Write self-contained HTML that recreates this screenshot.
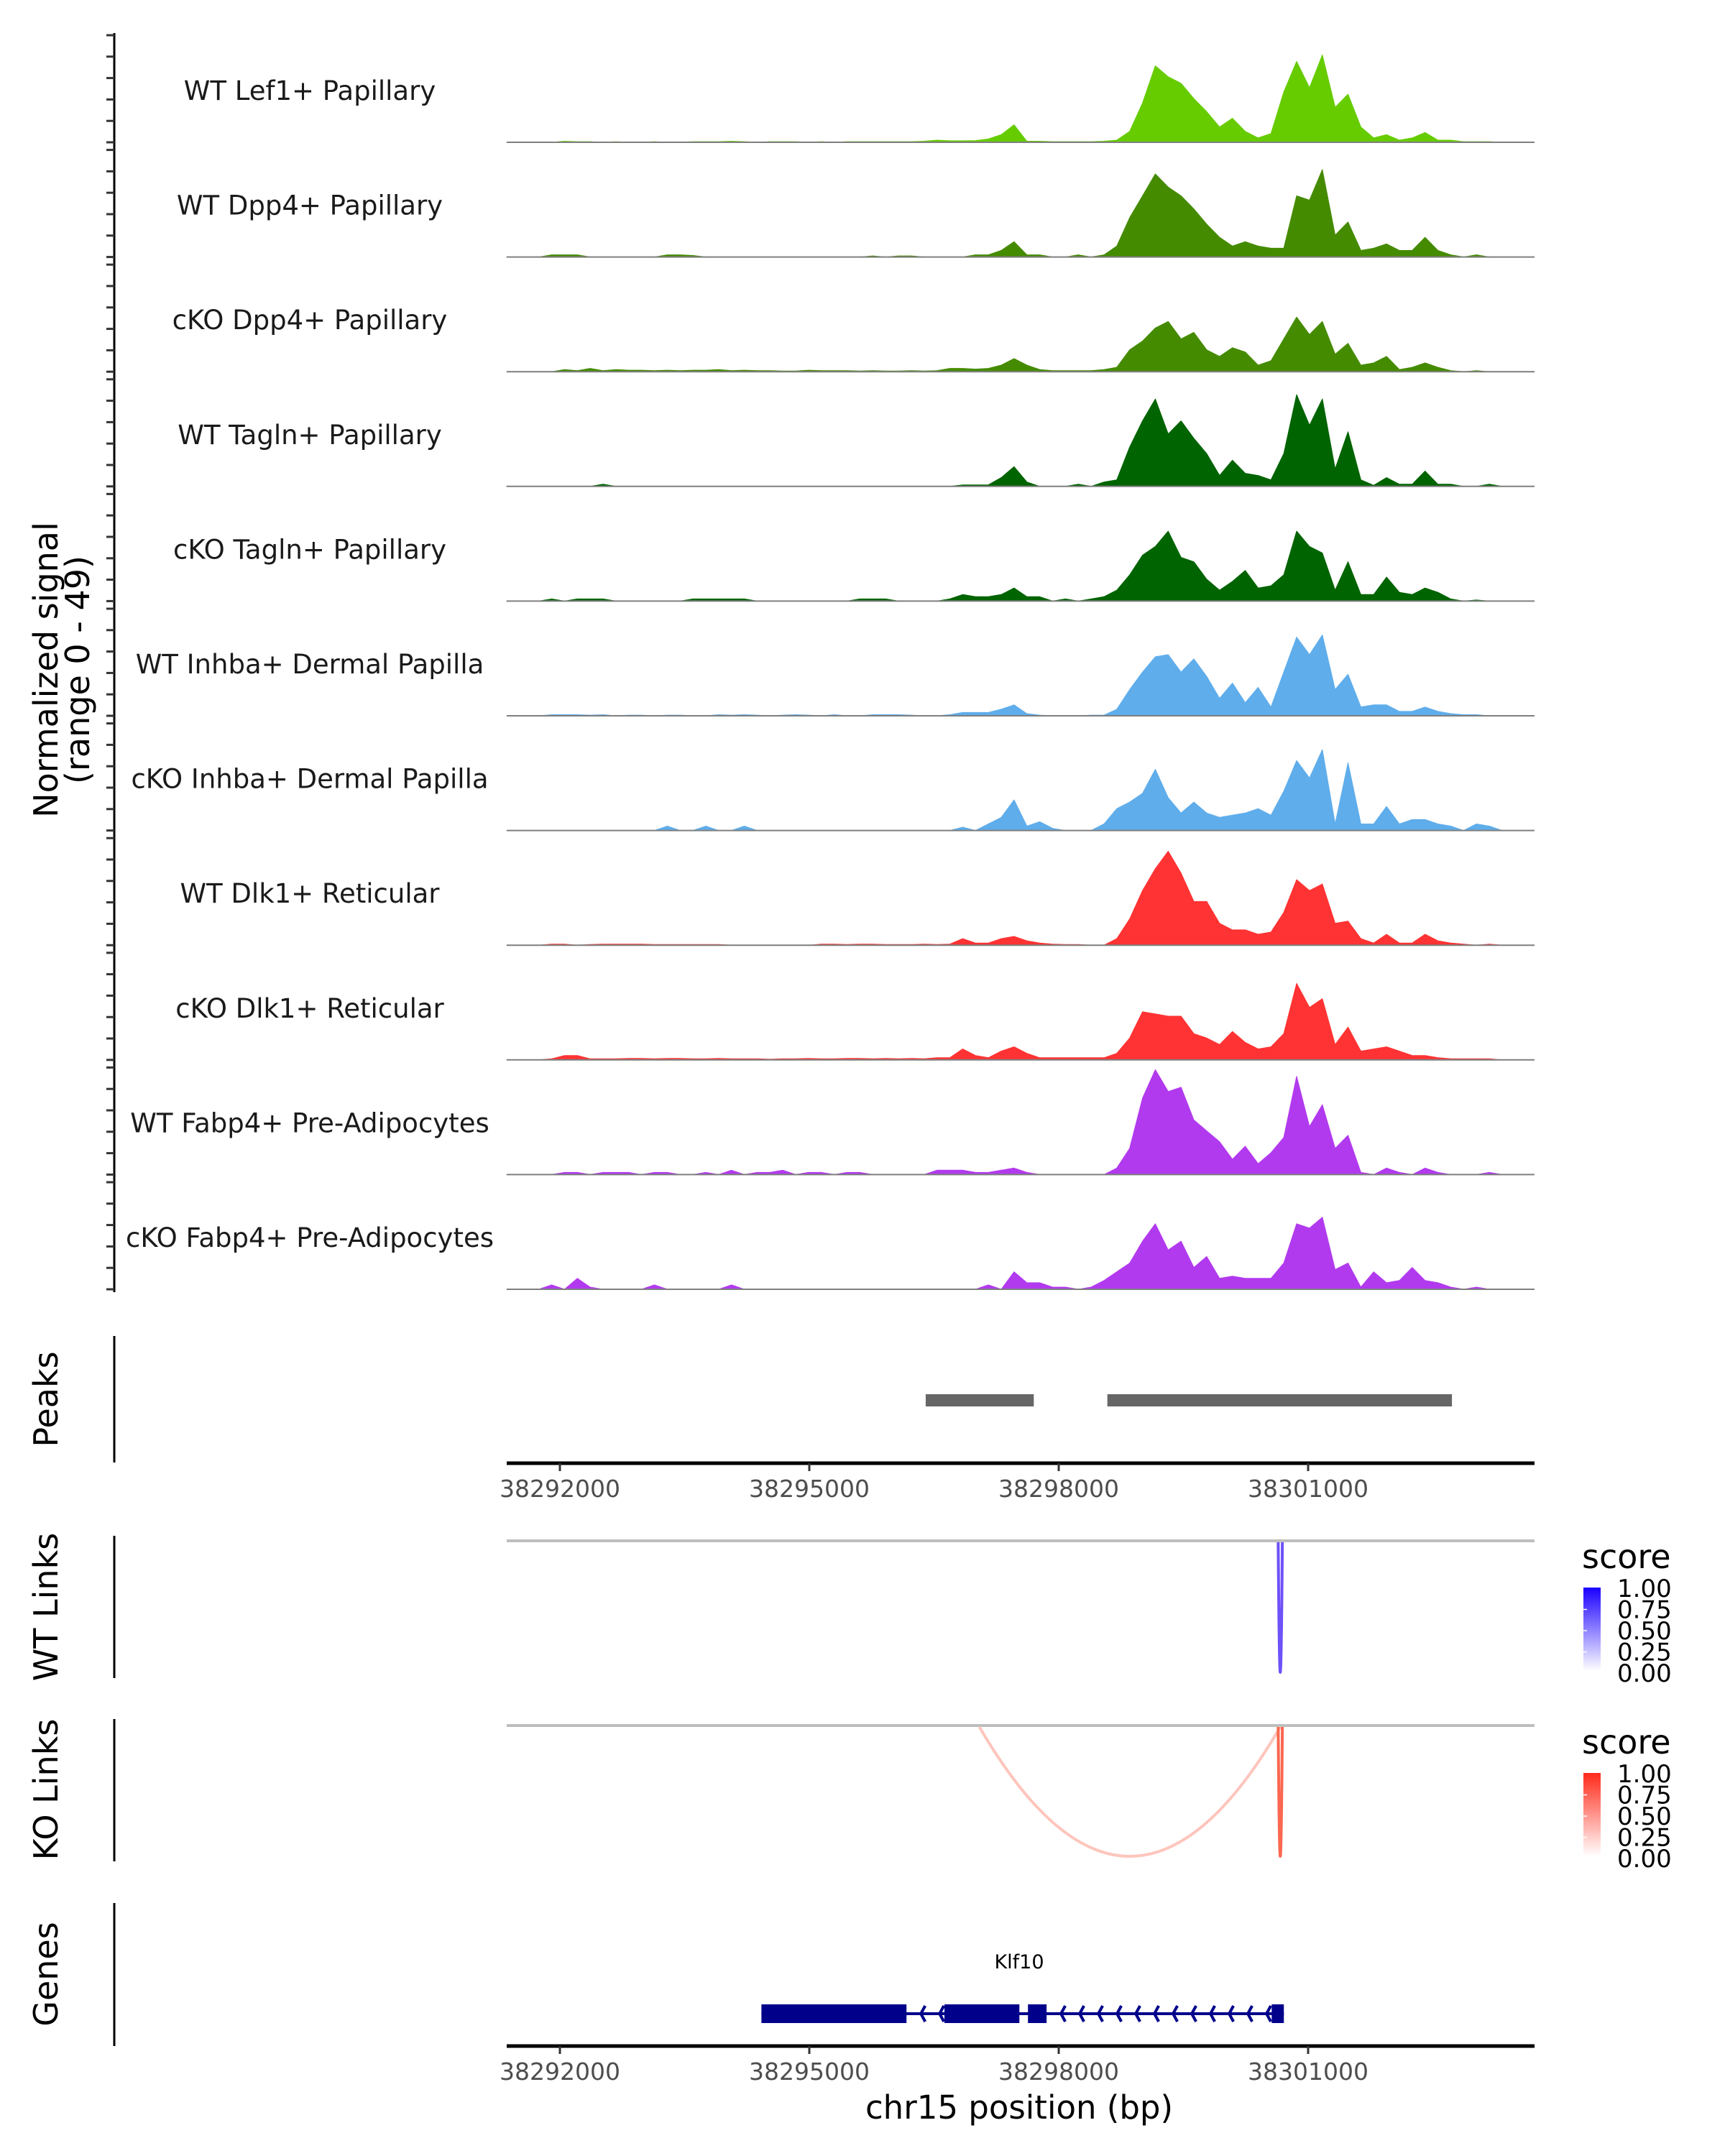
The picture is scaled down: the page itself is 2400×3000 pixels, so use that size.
<!DOCTYPE html>
<html><head><meta charset="utf-8"><style>
html,body{margin:0;padding:0;background:#fff;}
svg{display:block;font-family:"DejaVu Sans","Liberation Sans",sans-serif;}
</style></head><body>
<svg id="chart" width="2400" height="3000" viewBox="0 0 2400 3000" xmlns="http://www.w3.org/2000/svg">
<g id="ytitle">
<text x="80" y="932" font-size="46" text-anchor="middle" transform="rotate(-90 80 932)">Normalized signal</text>
<text x="124" y="932" font-size="46" text-anchor="middle" transform="rotate(-90 124 932)">(range 0 - 49)</text>
</g>
<line x1="159" y1="46" x2="159" y2="1798" stroke="#000" stroke-width="3"/>
<g id="tracks"></g>
<text x="80" y="1947" font-size="46" text-anchor="middle" transform="rotate(-90 80 1947)">Peaks</text>
<line x1="159" y1="1859" x2="159" y2="2035" stroke="#000" stroke-width="3"/>
<g id="peaks"></g>
<g id="axis1"></g>
<text x="80" y="2236" font-size="46" text-anchor="middle" transform="rotate(-90 80 2236)">WT Links</text>
<line x1="159" y1="2137" x2="159" y2="2335" stroke="#000" stroke-width="3"/>
<line x1="705" y1="2144" x2="2135" y2="2144" stroke="#bebebe" stroke-width="4"/>
<g id="wtlinks"></g>
<text x="80" y="2490" font-size="46" text-anchor="middle" transform="rotate(-90 80 2490)">KO Links</text>
<line x1="159" y1="2392" x2="159" y2="2590" stroke="#000" stroke-width="3"/>
<line x1="705" y1="2401" x2="2135" y2="2401" stroke="#bebebe" stroke-width="4"/>
<g id="kolinks"></g>
<defs>
<linearGradient id="gBlue" x1="0" y1="1" x2="0" y2="0"><stop offset="0" stop-color="#ffffff"/><stop offset="1" stop-color="#1a00ff"/></linearGradient>
<linearGradient id="gRed" x1="0" y1="1" x2="0" y2="0"><stop offset="0" stop-color="#ffffff"/><stop offset="1" stop-color="#ff2a1a"/></linearGradient>
</defs>
<g id="legends"></g>
<text x="80" y="2747" font-size="46" text-anchor="middle" transform="rotate(-90 80 2747)">Genes</text>
<line x1="159" y1="2648" x2="159" y2="2847" stroke="#000" stroke-width="3"/>
<text x="1418" y="2739" font-size="27" text-anchor="middle">Klf10</text>
<g id="genes"></g>
<g id="axis2"></g>
<text x="1418" y="2948" font-size="45" text-anchor="middle">chr15 position (bp)</text>
</svg>
<script>
// ---- data ----
const trackNames = ["WT Lef1+ Papillary","WT Dpp4+ Papillary","cKO Dpp4+ Papillary","WT Tagln+ Papillary","cKO Tagln+ Papillary","WT Inhba+ Dermal Papilla","cKO Inhba+ Dermal Papilla","WT Dlk1+ Reticular","cKO Dlk1+ Reticular","WT Fabp4+ Pre-Adipocytes","cKO Fabp4+ Pre-Adipocytes"];
const trackColors = ["#66cc00","#458b00","#458b00","#006400","#006400","#5fadeb","#5fadeb","#ff3333","#ff3333","#b23aee","#b23aee"];
const binStart = 38291360;
const binSize = 154.5;
const sigLef1WT = [0,0,0,0,0.5,0.3,0.3,0,0.3,0, 0,0.3,0,0,0.3,0.3,0.3,0.5,0.3,0, 0.3,0.3,0.3,0,0.3,0,0.3,0.3,0.3,0.3, 0.3,0.3,0.5,1,0.7,0.7,0.8,1.5,3.5,8, 0.5,0.5,0.3,0.3,0.3,0.3,0.5,1,5,18, 35,30,27,20,14,7,11,5,2,4, 23,37,25,40,16,22,7,2,3.5,1, 2,4.5,1,1,0.3,0.3,0.3,0,0,0];
const sigDpp4WT = [0,0,0,1,1,1,0,0,0,0, 0,0,1,1,0.7,0,0,0,0,0, 0,0,0,0,0,0,0,0,0.5,0, 0.5,0.5,0,0,0,0,1,1,3,7, 1,1,0,0,1,0,1,5,18,28, 38,32,28,22,15,9,5,7,5,4, 4,28,26,40,10,16,3,4,6,3, 3,9,3,1,0,1,0,0,0,0];
const sigDpp4KO = [0,0,0,0,1,0.5,1.5,0.5,1,0.7, 0.7,0.5,0.7,0.5,0.7,0.7,1,0.5,0.7,0.5, 0.5,0.3,0.3,0.7,0.5,0.5,0.5,0.3,0.5,0.3, 0.3,0.5,0.3,0.5,1.5,1.5,1.2,1.5,3,6, 3,1,0.5,0.5,0.5,0.5,1,2,10,14, 20,23,15,18,10,7,11,9,3,5, 15,25,17,23,8,13,3,4,7,1, 2,4,2,0.5,0,0.5,0,0,0,0];
const sigTaglnWT = [0,0,0,0,0,0,0,1,0,0, 0,0,0,0,0,0,0,0,0,0, 0,0,0,0,0,0,0,0,0,0, 0,0,0,0,0,0.7,0.7,0.7,4,9, 2,0,0,0,1,0,2,3,18,30, 40,24,30,22,15,5,12,6,5,3, 15,42,28,40,8,25,3,0.5,4,1, 1,7,1,1,0,0,1,0,0,0];
const sigTaglnKO = [0,0,0,1,0,1,1,1,0,0, 0,0,0,0,1,1,1,1,1,0, 0,0,0,0,0,0,0,1,1,1, 0,0,0,0,1,3,2,2,3,6, 2,2,0,1,0,1,2,5,12,21, 25,32,20,18,10,5,9,14,6,7, 12,32,25,22,5,18,3,3,11,4, 3,6,4,1,0,0.5,0,0,0,0];
const sigInhbaWT = [0,0,0,0.5,0.5,0.5,0.3,0.5,0,0.3, 0.3,0,0.3,0.3,0,0,0.5,0.3,0.5,0.3, 0,0.3,0.5,0.3,0,0.5,0,0,0.5,0.5, 0.5,0.3,0,0,0.5,1.5,1.5,1.5,3,5, 1,0.3,0,0,0,0.3,0.3,3,12,20, 27,28,20,26,18,8,15,6,13,4, 20,36,28,37,12,19,4,5,5,2, 2,4,2,1,0.5,0.5,0,0,0,0];
const sigInhbaKO = [0,0,0,0,0,0,0,0,0,0, 0,0,2,0,0,2,0,0,2,0, 0,0,0,0,0,0,0,0,0,0, 0,0,0,0,0,1.5,0,3,6,14, 2,4,1,0,0,0,3,10,13,17, 28,15,8,13,8,6,7,8,10,7, 18,32,24,37,3,31,3,3,11,3, 5,5,3,2,0,3,2,0,0,0];
const sigDlk1WT = [0,0,0,0.5,0.5,0,0.3,0.5,0.5,0.5, 0.5,0.3,0.3,0.3,0.3,0.3,0.3,0,0,0, 0,0,0,0,0.5,0.5,0.3,0.5,0.5,0.3, 0.3,0.3,0.5,0.3,0.5,3,1,1,3,4, 2,1,0.5,0.3,0.3,0,0,3,12,25, 35,43,33,20,20,10,7,7,5,6, 15,30,25,28,10,11,3,1,5,1, 1,5,2,1,0.5,0,0.5,0,0,0];
const sigDlk1KO = [0,0,0,0.5,2,2,0.5,0.5,0.5,0.7, 0.7,0.5,0.7,0.7,0.5,0.5,0.7,0.5,0.5,0.5, 0.3,0.5,0.5,0.7,0.5,0.5,0.7,0.7,0.5,0.7, 0.5,0.7,0.5,1,1,5,2,1,4,6, 3,1,1,1,1,1,1,3,10,22, 21,20,20,12,10,7,13,8,5,6, 12,35,24,28,7,15,4,5,6,4, 2,2,1,0.5,0.5,0.5,0.5,0,0,0];
const sigFabp4WT = [0,0,0,0,1,1,0,1,1,1, 0,1,1,0,0,1,0,2,0,1, 1,2,0,1,1,0,1,1,0,0, 0,0,0,2,2,2,1,1,2,3, 1,0,0,0,0,0,0,3,12,35, 48,38,40,25,20,15,7,13,5,10, 17,45,22,32,12,18,1,0,3,1, 0,3,1,0,0,0,1,0,0,0];
const sigFabp4KO = [0,0,0,2,0,5,1,0,0,0, 0,2,0,0,0,0,0,2,0,0, 0,0,0,0,0,0,0,0,0,0, 0,0,0,0,0,0,0,2,0,8, 3,3,1,1,0,1,4,8,12,22, 30,18,22,10,15,5,6,5,5,5, 12,30,28,33,9,12,1,8,3,4, 10,4,3,1,0,1,0,0,0,0];
const trackSignals = [sigLef1WT,sigDpp4WT,sigDpp4KO,sigTaglnWT,sigTaglnKO,sigInhbaWT,sigInhbaKO,sigDlk1WT,sigDlk1KO,sigFabp4WT,sigFabp4KO];
const xTicks = [38292000,38295000,38298000,38301000];
const peakStarts = [38296400,38298585];
const peakEnds = [38297700,38302730];
const wtLinkStart = [38300640];
const wtLinkEnd = [38300690];
const wtLinkScore = [0.8];
const koLinkStart = [38297046,38300640];
const koLinkEnd = [38300665,38300690];
const koLinkScore = [0.25,0.85];
const exonStarts = [38294424,38296625,38297630,38300562];
const exonEnds = [38296169,38297527,38297854,38300708];
const legendTicks = ["1.00","0.75","0.50","0.25","0.00"];

// ---- scales ----
const NS="http://www.w3.org/2000/svg";
const X0=705, X1=2135;
function x(bp){ return 779 + (bp-38292000)*347/3000; }
const unitPx = 149/49;
function baseY(i){ return 198 + i*159.6; }
function el(tag, attrs, parent){ const e=document.createElementNS(NS,tag); for(const k in attrs) e.setAttribute(k,attrs[k]); parent.appendChild(e); return e; }

// ---- tracks ----
const tg=document.getElementById('tracks');
trackNames.forEach((name,i)=>{
  const b=baseY(i);
  const g=el('g',{},tg);
  
  
  for(let k=0;k<6;k++){
    const t=el('line',{x1:148,x2:159,y1:b-k*29.8,y2:b-k*29.8,stroke:'#333','stroke-width':3},g);
    
    
  }
  const lab=el('text',{x:431,y:b-59,'font-size':37,'text-anchor':'middle',fill:'#1a1a1a'},g);
  lab.textContent=name;
  
  
  const vals=trackSignals[i];
  let d='M'+x(binStart).toFixed(1)+','+b;
  vals.forEach((v,j)=>{
    const cx=x(binStart+(j+0.5)*binSize);
    d+=' L'+cx.toFixed(1)+','+(b-v*unitPx).toFixed(1);
  });
  d+=' L'+x(binStart+vals.length*binSize).toFixed(1)+','+b+' Z';
  const p=el('path',{d:d,fill:trackColors[i],stroke:trackColors[i],'stroke-width':1,'stroke-linejoin':'round'},g);
  
  
  const bl=el('line',{x1:X0,x2:X1,y1:b,y2:b,stroke:'#7f7f7f','stroke-width':2},g);
  
  
});

// ---- peaks ----
const pg=document.getElementById('peaks');
peakStarts.forEach((s,i)=>{
  const r=el('rect',{x:x(s),y:1940,width:x(peakEnds[i])-x(s),height:17,fill:'#666666'},pg);
  
  
});

// ---- axes ----
function drawAxis(gid,y,ly){
  const g=document.getElementById(gid);
  const l=el('line',{x1:X0,x2:X1,y1:y,y2:y,stroke:'#000','stroke-width':5},g);
  
  
  xTicks.forEach(t=>{
    const tk=el('line',{x1:x(t),x2:x(t),y1:y,y2:y+11,stroke:'#333','stroke-width':3},g);
    
    
    const tx=el('text',{x:x(t),y:ly,'font-size':33,'text-anchor':'middle',fill:'#4d4d4d'},g);
    tx.textContent=String(t);
    
    
  });
}
drawAxis('axis1',2036,2083);
drawAxis('axis2',2847,2894);

// ---- links ----
function mix(c,s){ return 'rgb('+c.map(v=>Math.round(255+(v-255)*s)).join(',')+')'; }
function drawLinks(gid,starts,ends,scores,topY,botY,col){
  const g=document.getElementById(gid);
  starts.forEach((s,i)=>{
    const x1=x(s), x2=x(ends[i]);
    const cy=2*botY-topY;
    const d='M'+x1+','+topY+' Q'+((x1+x2)/2)+','+cy+' '+x2+','+topY;
    const p=el('path',{d:d,fill:'none',stroke:mix(col,scores[i]*0.8+0.1),'stroke-width':4},g);
    
    
  });
}
drawLinks('wtlinks',wtLinkStart,wtLinkEnd,wtLinkScore,2146,2327,[60,20,245]);
drawLinks('kolinks',koLinkStart,koLinkEnd,koLinkScore,2403,2583,[250,60,30]);

// ---- legends ----
const lg=document.getElementById('legends');
[[0,'gBlue','wt'],[258,'gRed','ko']].forEach(([dy,grad,nm])=>{
  const g=el('g',{},lg);
  
  
  const t=el('text',{x:2201,y:2182+dy,'font-size':46},g);
  t.textContent='score';
  
  
  const r=el('rect',{x:2203,y:2209+dy,width:24,height:116,fill:'url(#'+grad+')'},g);
  
  
  legendTicks.forEach((lbl,k)=>{
    const yy=2210+dy+k*29.5;
    if(k>0&&k<4){
      const tl=el('line',{x1:2203,x2:2208,y1:yy,y2:yy,stroke:'#fff','stroke-width':1.5},g);
      
      
    }
    const tx=el('text',{x:2250,y:yy+12,'font-size':34},g);
    tx.textContent=lbl;
    
    
  });
});

// ---- genes ----
const gg=document.getElementById('genes');
const gStart=exonStarts[0], gEnd=exonEnds[exonEnds.length-1];
const il=el('line',{x1:x(gStart),x2:x(gEnd),y1:2802,y2:2802,stroke:'#00008b','stroke-width':4},gg);


for(let i=0;i<exonStarts.length-1;i++){
  const a=x(exonEnds[i])+12, bEnd=x(exonStarts[i+1])-4;
  for(let px=a+8; px<bEnd; px+=26){
    const ch=el('path',{d:'M'+(px+6)+',2791 L'+px+',2802 L'+(px+6)+',2813',fill:'none',stroke:'#00008b','stroke-width':4},gg);
    
    
  }
}
exonStarts.forEach((s,i)=>{
  const r=el('rect',{x:x(s),y:2789,width:x(exonEnds[i])-x(s),height:26,fill:'#00008b'},gg);
  
  
});
</script>
</body></html>
